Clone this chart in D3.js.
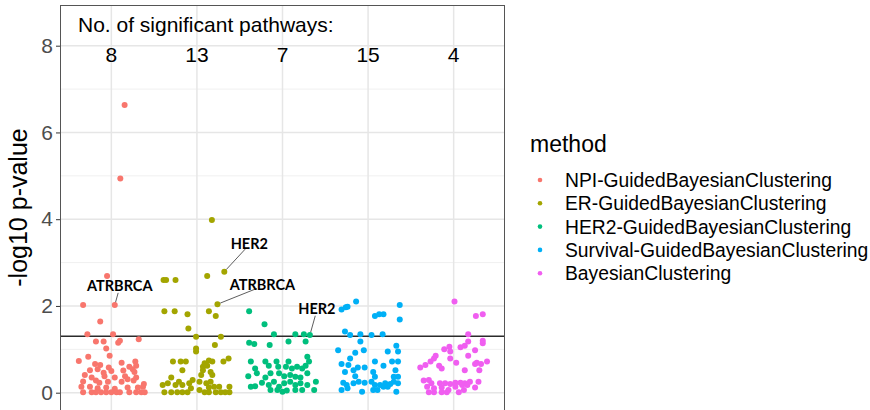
<!DOCTYPE html>
<html>
<head>
<meta charset="utf-8">
<script src="https://cdn.jsdelivr.net/npm/d3@7"></script>
<style>
  html, body { margin: 0; padding: 0; background: #fff; }
  svg { display: block; font-family: "Liberation Sans", Arial, Helvetica, sans-serif; }
</style>
</head>
<body>
<svg id="chart" width="870" height="410"></svg>
<script>
// Methods, their colours and the count of significant pathways for each
const methods = [
  "NPI-GuidedBayesianClustering",
  "ER-GuidedBayesianClustering",
  "HER2-GuidedBayesianClustering",
  "Survival-GuidedBayesianClustering",
  "BayesianClustering"
];
const colors = ["#F8766D", "#A3A500", "#00BF7D", "#00B0F6", "#F05EF0"];
const sigCounts = [8, 13, 7, 15, 4];
const yTicks = [0, 2, 4, 6, 8];
const yMinor = [1, 3, 5, 7];
const threshold = -Math.log10(0.05);

// Each pathway: [horizontal jitter within its method column, -log10 p-value]
const npiPoints = [
  [0.155, 6.63], [0.105, 4.94], [-0.05, 2.69], [-0.33, 2.02], [0.04, 2.02], [-0.13, 1.64],
  [-0.28, 1.35], [0.02, 1.35], [-0.18, 1.18], [-0.09, 1.18], [0.08, 1.15], [0.10, 1.20],
  [0.32, 1.23], [-0.06, 1.02], [-0.02, 0.85], [-0.38, 0.73], [-0.27, 0.83], [-0.19, 0.66],
  [-0.13, 0.64], [0.12, 0.69], [0.28, 0.72], [0.29, 0.62], [0.21, 0.60], [-0.03, 0.58],
  [-0.25, 0.52], [-0.16, 0.54], [-0.09, 0.46], [0.00, 0.50], [0.14, 0.51], [0.25, 0.54],
  [0.27, 0.48], [-0.31, 0.41], [-0.23, 0.35], [-0.08, 0.38], [0.04, 0.35], [0.16, 0.38],
  [0.29, 0.35], [0.19, 0.31], [-0.33, 0.26], [-0.18, 0.28], [-0.14, 0.23], [-0.04, 0.25],
  [0.12, 0.25], [0.26, 0.28], [0.38, 0.20], [-0.35, 0.14], [-0.25, 0.14], [-0.16, 0.10],
  [-0.06, 0.12], [0.04, 0.09], [0.19, 0.12], [0.31, 0.12], [0.37, 0.14], [-0.33, 0.01],
  [-0.23, 0.01], [-0.18, 0.01], [-0.12, 0.01], [-0.06, 0.01], [0.00, 0.01], [0.06, 0.01],
  [0.10, 0.01], [0.21, 0.01], [0.29, 0.01], [0.35, 0.01], [0.39, 0.01]
];
const erPoints = [
  [0.175, 3.98], [0.12, 2.69], [0.32, 2.79], [-0.39, 2.60], [-0.36, 2.60], [-0.25, 2.60],
  [0.24, 2.04], [-0.38, 1.88], [-0.26, 1.88], [-0.11, 1.81], [0.14, 1.88], [0.22, 1.77],
  [-0.10, 1.48], [-0.01, 1.29], [0.28, 1.29], [0.21, 1.10], [-0.01, 1.02], [-0.01, 0.95],
  [-0.28, 0.72], [-0.19, 0.72], [-0.13, 0.72], [-0.17, 0.52], [0.07, 0.60], [0.09, 0.68],
  [0.14, 0.74], [0.18, 0.72], [0.12, 0.62], [0.31, 0.72], [0.37, 0.79], [0.07, 0.52],
  [0.05, 0.41], [0.16, 0.48], [0.18, 0.41], [-0.30, 0.35], [-0.21, 0.25], [-0.40, 0.18],
  [-0.34, 0.22], [-0.25, 0.18], [-0.17, 0.18], [-0.09, 0.22], [-0.05, 0.29], [0.03, 0.25],
  [0.11, 0.22], [0.16, 0.25], [0.20, 0.14], [0.26, 0.14], [0.38, 0.14], [0.14, 0.12],
  [-0.07, 0.10], [-0.38, 0.01], [-0.30, 0.01], [-0.23, 0.01], [-0.17, 0.01], [-0.11, 0.01],
  [0.03, 0.06], [0.09, 0.01], [0.14, 0.01], [0.22, 0.01], [0.28, 0.01], [0.33, 0.01],
  [0.38, 0.01]
];
const her2Points = [
  [-0.39, 1.88], [-0.21, 1.58], [-0.10, 1.35], [0.15, 1.35], [0.25, 1.35], [0.32, 1.33],
  [-0.39, 1.15], [-0.33, 1.12], [-0.15, 1.10], [0.07, 1.18], [0.27, 1.18], [-0.37, 0.72],
  [-0.32, 0.56], [-0.20, 0.72], [-0.16, 0.62], [-0.07, 0.72], [-0.05, 0.60], [0.04, 0.60],
  [0.07, 0.72], [0.11, 0.56], [0.17, 0.60], [0.23, 0.56], [0.29, 0.83], [0.31, 0.72],
  [0.27, 0.62], [-0.40, 0.38], [-0.30, 0.45], [-0.20, 0.35], [-0.14, 0.45], [-0.04, 0.45],
  [0.02, 0.38], [0.09, 0.41], [0.15, 0.37], [0.21, 0.35], [0.29, 0.45], [-0.37, 0.14],
  [-0.32, 0.15], [-0.24, 0.23], [-0.16, 0.18], [-0.10, 0.25], [-0.04, 0.14], [0.02, 0.22],
  [0.09, 0.25], [0.15, 0.18], [0.21, 0.22], [0.29, 0.18], [0.39, 0.25], [-0.14, 0.06],
  [-0.06, 0.06], [0.00, 0.02], [0.05, 0.05], [0.15, 0.06], [0.23, 0.06], [0.37, 0.06]
];
const survivalPoints = [
  [-0.14, 2.10], [-0.31, 1.92], [-0.26, 1.97], [-0.24, 1.98], [0.37, 2.02], [0.08, 1.77],
  [0.13, 1.81], [0.18, 1.81], [0.37, 1.69], [-0.27, 1.41], [-0.21, 1.33], [-0.09, 1.35],
  [-0.09, 1.18], [0.04, 1.33], [0.17, 1.35], [-0.35, 0.98], [-0.15, 0.92], [-0.05, 0.98],
  [0.23, 0.95], [0.33, 1.08], [0.35, 0.95], [-0.21, 0.79], [-0.23, 0.64], [-0.17, 0.52],
  [-0.12, 0.58], [-0.31, 0.66], [-0.04, 0.58], [0.08, 0.72], [0.06, 0.48], [0.18, 0.62],
  [0.28, 0.72], [0.35, 0.72], [0.32, 0.52], [-0.27, 0.48], [-0.15, 0.38], [0.08, 0.37],
  [0.30, 0.37], [0.35, 0.37], [-0.29, 0.23], [-0.25, 0.18], [-0.17, 0.22], [-0.11, 0.25],
  [-0.04, 0.23], [0.04, 0.25], [0.08, 0.18], [0.14, 0.18], [0.20, 0.22], [0.26, 0.20],
  [0.30, 0.25], [0.35, 0.22], [-0.31, 0.06], [-0.24, 0.10], [-0.07, 0.02], [0.06, 0.06],
  [0.11, 0.06], [0.18, 0.14], [0.23, 0.14], [0.33, 0.02]
];
const bayesPoints = [
  [0.01, 2.10], [0.26, 1.77], [0.34, 1.81], [0.17, 1.35], [0.17, 1.18], [0.34, 1.20],
  [0.34, 1.14], [-0.11, 1.00], [-0.05, 1.06], [-0.04, 0.95], [0.08, 1.05], [0.13, 1.08],
  [0.25, 0.98], [0.17, 0.85], [-0.04, 0.79], [0.32, 0.66], [0.39, 0.72], [0.03, 0.69],
  [-0.39, 0.58], [-0.33, 0.64], [-0.27, 0.72], [-0.23, 0.79], [-0.21, 0.85], [-0.17, 0.62],
  [-0.14, 0.56], [0.13, 0.52], [0.25, 0.66], [0.27, 0.69], [0.30, 0.52], [-0.35, 0.28],
  [-0.29, 0.29], [-0.26, 0.22], [-0.16, 0.22], [-0.10, 0.22], [-0.04, 0.20], [0.02, 0.23],
  [0.08, 0.23], [0.13, 0.22], [0.19, 0.25], [0.29, 0.25], [-0.31, 0.14], [-0.23, 0.10],
  [-0.14, 0.12], [-0.06, 0.06], [0.02, 0.14], [0.10, 0.18], [0.16, 0.18], [0.25, 0.12],
  [-0.29, 0.01], [-0.23, 0.01], [-0.14, 0.01], [-0.08, 0.01], [0.06, 0.01], [0.12, 0.06]
];
const pointSets = [npiPoints, erPoints, her2Points, survivalPoints, bayesPoints];

// Labelled pathways: [method index, point index in its set, label, text dx, text dy]
const labelled = [
  [0, 4, "ATRBRCA", 5, -14],
  [1, 2, "HER2", 25, -23],
  [1, 6, "ATRBRCA", 45, -14],
  [2, 5, "HER2", 7, -21]
];

const svg = d3.select("#chart");
const panel = { left: 60, right: 505, top: 5, bottom: 413 };

const x = d3.scaleLinear().domain([0.4, methods.length + 0.6]).range([panel.left, panel.right]);
const y = d3.scaleLinear().domain([0, 8]).range([392.7, 45.7]);

// Panel background and grid
svg.append("rect")
  .attr("x", panel.left).attr("y", panel.top)
  .attr("width", panel.right - panel.left).attr("height", panel.bottom - panel.top)
  .attr("fill", "#fff");

svg.append("g").selectAll("line").data(yMinor).join("line")
  .attr("x1", panel.left).attr("x2", panel.right)
  .attr("y1", d => y(d)).attr("y2", d => y(d))
  .attr("stroke", "#F0F0F0").attr("stroke-width", 1);

svg.append("g").selectAll("line").data(yTicks).join("line")
  .attr("x1", panel.left).attr("x2", panel.right)
  .attr("y1", d => y(d)).attr("y2", d => y(d))
  .attr("stroke", "#E6E6E6").attr("stroke-width", 1.5);

svg.append("g").selectAll("line").data(methods.map((m, i) => i + 1)).join("line")
  .attr("x1", d => x(d)).attr("x2", d => x(d))
  .attr("y1", panel.top).attr("y2", panel.bottom)
  .attr("stroke", "#E6E6E6").attr("stroke-width", 1.5);

// Significance threshold (p = 0.05)
svg.append("line")
  .attr("x1", panel.left).attr("x2", panel.right)
  .attr("y1", y(threshold)).attr("y2", y(threshold))
  .attr("stroke", "#2b2b2b").attr("stroke-width", 1.6);

// Points
pointSets.forEach((pts, i) => {
  svg.append("g").selectAll("circle").data(pts).join("circle")
    .attr("cx", d => x(i + 1 + d[0]))
    .attr("cy", d => y(d[1]))
    .attr("r", 3)
    .attr("fill", colors[i]);
});

// Pathway labels with leader lines
labelled.forEach(([mi, pi, text, dx, dy]) => {
  const p = pointSets[mi][pi];
  const px = x(mi + 1 + p[0]);
  const py = y(p[1]);
  const tx = px + dx;
  const ty = py + dy;
  const vx = tx - px, vy = (ty - 4) - py;
  const len = Math.hypot(vx, vy);
  svg.append("line")
    .attr("x1", px + vx / len * 3).attr("y1", py + vy / len * 3)
    .attr("x2", tx - vx / len * 6).attr("y2", ty - 4 - vy / len * 6)
    .attr("stroke", "#333").attr("stroke-width", 0.8);
  svg.append("text")
    .attr("x", tx).attr("y", ty)
    .attr("text-anchor", "middle")
    .attr("font-family", "Lato, 'Liberation Sans', sans-serif")
    .attr("font-size", 14.5).attr("font-weight", "bold")
    .attr("fill", "#000")
    .text(text);
});

// Annotation: counts of significant pathways
svg.append("text")
  .attr("x", x(0.61)).attr("y", 32)
  .attr("font-size", 21).attr("fill", "#000")
  .text("No. of significant pathways:");

svg.append("g").selectAll("text").data(sigCounts).join("text")
  .attr("x", (d, i) => x(i + 1)).attr("y", 62)
  .attr("text-anchor", "middle")
  .attr("font-size", 21).attr("fill", "#000")
  .text(d => d);

// Panel border
svg.append("rect")
  .attr("x", panel.left + 0.5).attr("y", panel.top + 0.5)
  .attr("width", panel.right - panel.left - 1).attr("height", panel.bottom - panel.top)
  .attr("fill", "none").attr("stroke", "#555").attr("stroke-width", 1);

// Y axis
const yAxis = d3.axisLeft(y).tickValues(yTicks).tickSize(4).tickPadding(3).tickFormat(d3.format("d"));
const ya = svg.append("g").attr("transform", `translate(${panel.left},0)`).call(yAxis);
ya.select(".domain").remove();
ya.selectAll(".tick line").attr("stroke", "#333");
ya.selectAll(".tick text")
  .attr("font-size", 21).attr("fill", "#4D4D4D")
  .attr("font-family", "Liberation Sans, Arial, sans-serif");

svg.append("text")
  .attr("transform", `translate(27,${(panel.top + 410) / 2}) rotate(-90)`)
  .attr("text-anchor", "middle")
  .attr("font-size", 25).attr("fill", "#000")
  .text("-log10 p-value");

// Legend
const legend = svg.append("g").attr("transform", "translate(530,0)");
legend.append("text")
  .attr("x", 0).attr("y", 152)
  .attr("font-size", 23).attr("fill", "#000")
  .text("method");
const items = legend.selectAll("g.item").data(methods).join("g")
  .attr("class", "item")
  .attr("transform", (d, i) => `translate(0,${180 + i * 23.3})`);
items.append("circle")
  .attr("cx", 10).attr("cy", 0).attr("r", 2.3)
  .attr("fill", (d, i) => colors[i]);
items.append("text")
  .attr("x", 35).attr("y", 6.9)
  .attr("font-size", 19.3).attr("fill", "#000")
  .text(d => d);
</script>
</body>
</html>
